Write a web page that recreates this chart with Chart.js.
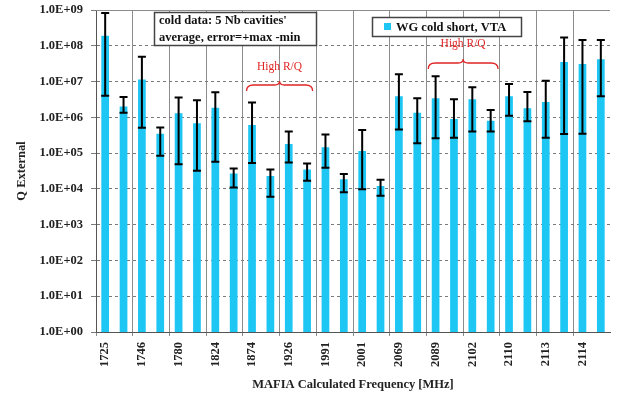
<!DOCTYPE html>
<html>
<head>
<meta charset="utf-8">
<script src="https://cdn.jsdelivr.net/npm/chart.js@4"></script>
<style>
  html, body { margin: 0; padding: 0; background: #fff; }
  canvas { display: block; }
</style>
</head>
<body>
<canvas id="qext" width="619" height="394"></canvas>
<script>
// two modes per frequency, label only on the first one
const freqLabels = ['1725', '1746', '1780', '1824', '1874', '1926', '1991',
                    '2001', '2069', '2089', '2102', '2110', '2113', '2114'];
const qValues = [1.9e8, 2.0e6, 1.15e7, 3.5e5, 1.3e6, 6.8e5, 1.85e6, 2.7e4, 6.1e5, 2.3e4,
                 1.8e5, 3.5e4, 1.45e5, 1.85e4, 1.15e5, 1.2e4, 3.9e6, 1.35e6, 3.4e6, 9.0e5,
                 3.2e6, 8.0e5, 3.9e6, 1.8e6, 2.7e6, 3.5e7, 3.1e7, 4.2e7];
const errHigh = [8.3e8, 3.7e6, 4.9e7, 5.2e5, 3.6e6, 3.0e6, 5.0e6, 3.7e4, 2.6e6, 3.5e4,
                 4.0e5, 5.1e4, 3.3e5, 2.6e4, 4.4e5, 1.8e4, 1.6e7, 3.4e6, 1.4e7, 3.2e6,
                 6.9e6, 1.6e6, 8.5e6, 5.1e6, 1.05e7, 1.7e8, 1.45e8, 1.45e8];
const errLow = [4.0e6, 1.35e6, 5.1e5, 8.4e4, 4.9e4, 3.2e4, 5.7e4, 1.1e4, 5.3e4, 6.0e3,
                5.5e4, 1.7e4, 3.9e4, 8.0e3, 9.7e3, 6.4e3, 4.6e5, 1.9e5, 2.6e5, 2.7e5,
                4.0e5, 4.0e5, 1.1e6, 7.8e5, 2.7e5, 3.4e5, 3.5e5, 3.9e6];
const yTickValues = [1, 1e1, 1e2, 1e3, 1e4, 1e5, 1e6, 1e7, 1e8, 1e9];
const yTickLabels = ['1.0E+00', '1.0E+01', '1.0E+02', '1.0E+03', '1.0E+04',
                     '1.0E+05', '1.0E+06', '1.0E+07', '1.0E+08', '1.0E+09'];

const categories = freqLabels.flatMap(f => [f, '']);
const serif = "'Liberation Serif', 'Times New Roman', serif";
const boldFont = { family: serif, size: 12.5, weight: 'bold' };

const errorBars = {
  id: 'errorBars',
  afterDatasetsDraw(chart) {
    const c = chart.ctx;
    const ys = chart.scales.y;
    const meta = chart.getDatasetMeta(0);
    c.save();
    c.strokeStyle = '#000';
    c.lineWidth = 2;
    meta.data.forEach((bar, i) => {
      const yHi = ys.getPixelForValue(errHigh[i]);
      const yLo = ys.getPixelForValue(errLow[i]);
      c.beginPath();
      c.moveTo(bar.x, yHi); c.lineTo(bar.x, yLo);
      c.moveTo(bar.x - 4, yHi); c.lineTo(bar.x + 4, yHi);
      c.moveTo(bar.x - 4, yLo); c.lineTo(bar.x + 4, yLo);
      c.stroke();
    });
    c.restore();
  }
};

function brace(c, xl, xr, mid, yLine, yTip, yEnd) {
  c.beginPath();
  c.moveTo(xl, yEnd);
  c.quadraticCurveTo(xl, yLine, xl + 7, yLine);
  c.lineTo(mid - 5, yLine);
  c.quadraticCurveTo(mid, yLine, mid, yTip);
  c.quadraticCurveTo(mid, yLine, mid + 5, yLine);
  c.lineTo(xr - 7, yLine);
  c.quadraticCurveTo(xr, yLine, xr, yEnd);
  c.stroke();
}

const notes = {
  id: 'notes',
  afterDraw(chart) {
    const c = chart.ctx;
    const a = chart.chartArea;
    const xs = chart.scales.x;
    c.save();
    // solid top edge
    c.strokeStyle = '#8c8c8c';
    c.lineWidth = 1;
    c.beginPath(); c.moveTo(a.left, a.top + 0.5); c.lineTo(a.right, a.top + 0.5); c.stroke();

    // note box
    c.fillStyle = '#fff';
    c.strokeStyle = '#444';
    c.lineWidth = 1.5;
    c.fillRect(154.5, 12.5, 162, 33);
    c.strokeRect(154.5, 12.5, 162, 33);
    c.fillStyle = '#111';
    c.font = 'bold 12.5px ' + serif;
    c.textBaseline = 'middle';
    c.textAlign = 'left';
    c.fillText("cold data: 5 Nb cavities'", 159, 21);
    c.fillText('average, error=+max -min', 159, 38);

    // legend box
    c.fillStyle = '#fff';
    c.fillRect(372.5, 17.5, 149, 19);
    c.strokeRect(372.5, 17.5, 149, 19);
    c.fillStyle = chart.data.datasets[0].backgroundColor;
    c.fillRect(384, 23, 7, 7);
    c.fillStyle = '#111';
    c.fillText(chart.data.datasets[0].label, 396, 27.5);

    // High R/Q braces
    c.strokeStyle = '#e02424';
    c.fillStyle = '#e02424';
    c.lineWidth = 1.3;
    c.font = '11.5px ' + serif;
    c.textAlign = 'center';
    const b1 = xs.getPixelForValue(9.5);
    brace(c, xs.getPixelForValue(7.7), xs.getPixelForValue(11.3), b1, 85, 81, 91);
    c.fillText('High R/Q', b1, 67);
    const b2 = xs.getPixelForValue(19.5);
    brace(c, xs.getPixelForValue(17.6), xs.getPixelForValue(21.4), b2, 63, 59, 69);
    c.fillText('High R/Q', b2, 44);
    c.restore();
  }
};

new Chart(document.getElementById('qext'), {
  type: 'bar',
  data: {
    labels: categories,
    datasets: [{
      label: 'WG cold short, VTA',
      data: qValues,
      backgroundColor: '#1ec6f4',
      categoryPercentage: 1,
      barPercentage: 0.42
    }]
  },
  options: {
    responsive: false,
    animation: false,
    layout: { padding: { top: 10, right: 9 } },
    plugins: {
      legend: { display: false },
      tooltip: { enabled: false }
    },
    scales: {
      x: {
        grid: {
          offset: true,
          color: c => c.index % 2 === 0 ? '#8c8c8c' : 'transparent',
          tickLength: 4
        },
        border: { color: '#555' },
        ticks: {
          autoSkip: false,
          minRotation: 90,
          maxRotation: 90,
          padding: 6,
          color: '#222',
          font: boldFont
        },
        title: {
          display: true,
          text: 'MAFIA Calculated Frequency [MHz]',
          color: '#222',
          font: boldFont,
          padding: { top: 2, bottom: 2 }
        },
        afterFit: s => { s.height = 62; s.paddingLeft = 0; s.paddingRight = 0; }
      },
      y: {
        type: 'logarithmic',
        min: 1,
        max: 1e9,
        afterBuildTicks: s => { s.ticks = yTickValues.map(v => ({ value: v })); },
        ticks: {
          callback: (v, i) => yTickLabels[i],
          padding: 8,
          color: '#222',
          font: boldFont
        },
        grid: { color: '#7a7a7a', tickLength: 5, tickBorderDash: [] },
        border: { color: '#555', dash: [3, 3] },
        title: {
          display: true,
          text: 'Q External',
          color: '#222',
          font: boldFont,
          padding: { top: 14, bottom: 4 }
        },
        afterFit: s => { s.width = 96; s.paddingTop = 0; s.paddingBottom = 0; }
      }
    }
  },
  plugins: [errorBars, notes]
});
</script>
</body>
</html>
